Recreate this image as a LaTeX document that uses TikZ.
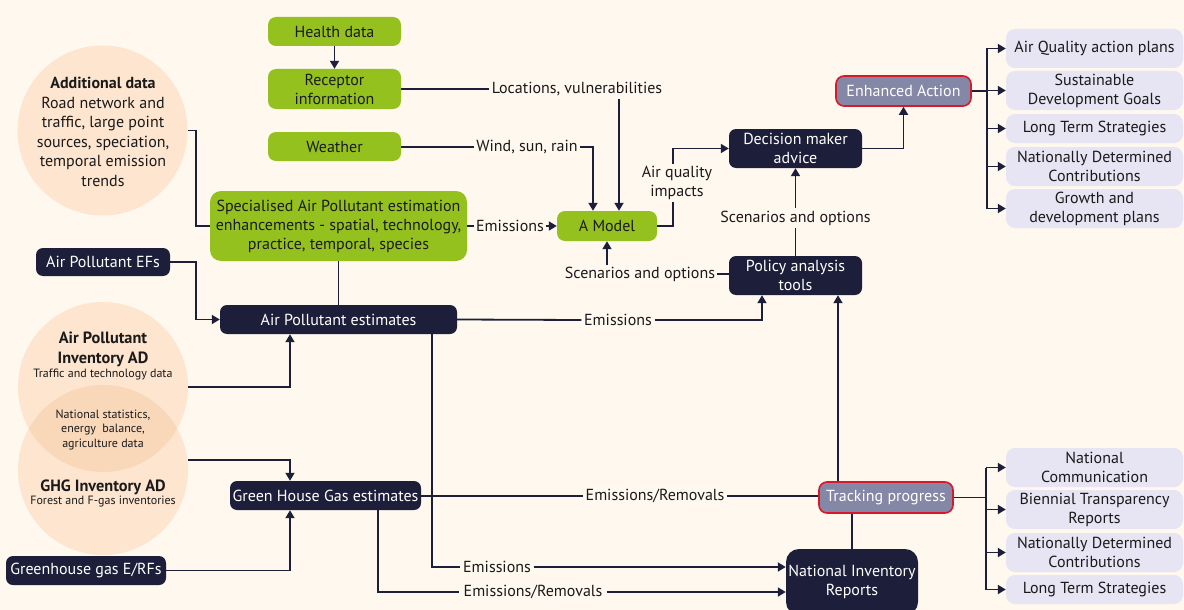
\documentclass[tikz,border=0pt]{standalone}
\usepackage{fontspec}
\setmainfont{PT Sans}
\usetikzlibrary{arrows.meta}
\definecolor{bg}{HTML}{FEF8EF}
\definecolor{peach}{HTML}{FDE5CF}
\definecolor{peachdk}{HTML}{F9D8BA}
\definecolor{lgreen}{HTML}{95C11F}
\definecolor{navy}{HTML}{1D1E3A}
\definecolor{slate}{HTML}{8587A6}
\definecolor{hired}{HTML}{D7192A}
\definecolor{lav}{HTML}{E7E4F3}
\definecolor{ink}{HTML}{1A1A1A}
\tikzset{
  base/.style={align=center, inner sep=0pt, font=\fontsize{16}{19}\selectfont},
  greenbox/.style={base, fill=lgreen, text=ink, rounded corners=8pt},
  darkbox/.style={base, fill=navy, text=white, rounded corners=7pt},
  hlbox/.style={base, fill=slate, draw=hired, line width=1.6pt, text=white, rounded corners=8pt},
  lavbox/.style={base, fill=lav, text=ink, rounded corners=9pt, minimum width=177pt},
  lbl/.style={base, text=ink, inner sep=2.5pt},
  circ/.style={circle, fill=peach, minimum size=170pt, inner sep=0pt},
  ctext/.style={align=center, inner sep=0pt, text=ink},
  ln/.style={draw=navy, line width=1.8pt},
  arr/.style={ln, -{Triangle[length=8pt,width=9pt]}},
  sz/.style n args={2}{minimum width=#1pt, minimum height=#2pt},
}
\begin{document}
\begin{tikzpicture}[x=1pt,y=-1pt]
\useasboundingbox (0,0) rectangle (1184,610);
\fill[bg] (0,0) rectangle (1184,610);

% ---- data circles ----
\node[circ] (add) at (102.5,130.5) {};
\node[circ] (apad) at (103,387) {};
\node[circ] (ghgad) at (103,470) {};
\begin{scope}
  \clip (apad.center) circle (85);
  \fill[peachdk] (ghgad.center) circle (85);
\end{scope}
\node[ctext, font=\fontsize{16}{19.5}\selectfont] at (103,132)
  {\textbf{Additional data}\\Road network and\\traffic, large point\\sources, speciation,\\temporal emission\\trends};
\node[ctext, font=\fontsize{16.3}{20}\selectfont\bfseries] at (103,349) {Air Pollutant\\Inventory AD};
\node[ctext, font=\fontsize{12}{14}\selectfont] at (103,375) {Traffic and technology data};
\node[ctext, font=\fontsize{12}{14.5}\selectfont] at (103,430) {National statistics,\\energy\ \ balance,\\agriculture data};
\node[ctext, font=\fontsize{16.3}{20}\selectfont\bfseries] at (103,487) {GHG Inventory AD};
\node[ctext, font=\fontsize{12}{14}\selectfont] at (103,502) {Forest and F-gas inventories};

% ---- green boxes ----
\node[greenbox, sz={133}{29}] (health) at (334.5,31.5) {Health data};
\node[greenbox, sz={133}{40}] (recep) at (334.5,89) {Receptor\\information};
\node[greenbox, sz={133}{29}] (weather) at (334.5,146.5) {Weather};
\node[greenbox, sz={257}{70}, rounded corners=11pt] (spec) at (338.5,226)
  {Specialised Air Pollutant estimation\\enhancements - spatial, technology,\\practice, temporal, species};
\node[greenbox, sz={100}{30}] (model) at (607,226) {A Model};

% ---- dark boxes ----
\node[darkbox, sz={133}{39}] (dec) at (795.5,148.5) {Decision maker\\advice};
\node[darkbox, sz={133}{39}] (pol) at (795.5,275.5) {Policy analysis\\tools};
\node[darkbox, sz={237}{29}] (ape) at (338.5,319.5) {Air Pollutant estimates};
\node[darkbox, sz={134}{28}] (efs) at (103,262) {Air Pollutant EFs};
\node[darkbox, sz={191}{29}] (ghg) at (325.5,495.5) {Green House Gas estimates};
\node[darkbox, sz={160}{29}] (erf) at (86,570.5) {Greenhouse gas E/RFs};
\node[darkbox, sz={132}{66}, rounded corners=13pt] (nir) at (852,582) {National Inventory\\Reports};

% ---- highlighted boxes ----
\node[hlbox, sz={135}{30}] (enh) at (903.5,91) {Enhanced Action};
\node[hlbox, sz={134}{31}] (track) at (886,497.5) {Tracking progress};

% ---- outcome boxes ----
\node[lavbox, minimum height=39pt] (aq) at (1094.5,48.5) {Air Quality action plans};
\node[lavbox, minimum height=39pt] (sdg) at (1094.5,90.5) {Sustainable\\Development Goals};
\node[lavbox, minimum height=29pt] (lts) at (1094.5,128.5) {Long Term Strategies};
\node[lavbox, minimum height=39pt] (ndc) at (1094.5,166.5) {Nationally Determined\\Contributions};
\node[lavbox, minimum height=39pt] (gro) at (1094.5,208.5) {Growth and\\development plans};
\node[lavbox, minimum height=39pt] (nc) at (1094.5,467.5) {National\\Communication};
\node[lavbox, minimum height=39pt] (btr) at (1094.5,509.5) {Biennial Transparency\\Reports};
\node[lavbox, minimum height=39pt] (ndc2) at (1094.5,552.5) {Nationally Determined\\Contributions};
\node[lavbox, minimum height=29pt] (lts2) at (1094.5,589.5) {Long Term Strategies};

% ---- connector labels ----
\node[lbl] (loc) at (577,89) {Locations, vulnerabilities};
\node[lbl] (wind) at (527,147) {Wind, sun, rain};
\node[lbl, inner sep=1.5pt] (emis1) at (510,226) {Emissions};
\node[lbl] (aqi) at (677,183) {Air quality\\impacts};
\node[lbl, inner sep=1.5pt] (scen1) at (640,274) {Scenarios and options};
\node[lbl] (scen2) at (795.5,218) {Scenarios and options};
\node[lbl] (emis2) at (618,320) {Emissions};
\node[lbl] (er1) at (655,496) {Emissions/Removals};
\node[lbl] (emis3) at (497,567) {Emissions};
\node[lbl, inner sep=4pt] (er2) at (533,592) {Emissions/Removals};

% ---- routing points ----
\coordinate (xloc) at (619,0);
\coordinate (xwind) at (593,0);
\coordinate (xaqi) at (673,0);
\coordinate (x290) at (290,0);
\coordinate (x762) at (762,0);
\coordinate (x838) at (838,0);
\coordinate (x432) at (432,0);
\coordinate (x378) at (378,0);
\coordinate (b1) at (987,91);
\coordinate (b2) at (986,497.5);

% ---- modelling chain ----
\draw[arr] (health) -- (recep);
\draw[ln] (recep.east) -- (loc.west);
\draw[arr] (loc.south -| xloc) -- (model.north -| xloc);
\draw[ln] (weather.east |- wind) -- (wind.west);
\draw[arr] (wind.east) -- (wind.east -| xwind) -- (model.north -| xwind);
\draw[ln] (spec.east) -- (emis1.west);
\draw[arr] (emis1.east) -- (model.west);
\draw[ln] (model.east) -| (xaqi |- aqi.south);
\draw[arr] (xaqi |- aqi.north) |- (dec.west);
\draw[arr] (scen1.north -| model) -- (model.south);
\draw[ln] (scen1.east) -- (scen1.east -| pol.west);
\draw[ln] (pol.north) -- (scen2.south);
\draw[arr] (scen2.north) -- (dec.south);
\draw[arr] (dec.east) -| (enh.south);

% ---- outcomes of enhanced action ----
\draw[ln] (enh.east) -- (b1);
\draw[ln] (b1 |- aq) -- (b1 |- gro);
\foreach \n in {aq,sdg,lts,ndc,gro}{\draw[arr] (b1 |- \n) -- (\n.west);}

% ---- inventory inputs ----
\draw[ln] (add.east) -- ++(8,0) |- (spec.west);
\draw[arr] (efs.east) -- ++(26,0) |- (ape.west);
\draw[ln] (spec.south) -- (ape.north);
\draw[arr] (apad.east) -| (x290 |- ape.south);
\draw[arr] (ghgad.7) -| (x290 |- ghg.north);
\draw[arr] (erf.east) -| (x290 |- ghg.south);

% ---- estimates to reporting ----
\draw[ln] (ape.east) -- (emis2.west);
\draw[arr] (emis2.east) -- (x762 |- emis2) -- (x762 |- pol.south);
\draw[arr] (x838 |- track.north) -- (x838 |- pol.south);
\draw[ln] (track.south -| nir) -- (nir.north);
\draw[ln] (ghg.east |- er1) -- (er1.west);
\draw[ln] (er1.east) -- (track.west |- er1);
\draw[ln] (x432 |- ape.south) |- (emis3.west);
\draw[arr] (emis3.east) -- (emis3.east -| nir.west);
\draw[ln] (x378 |- ghg.south) |- (er2.west);
\draw[arr] (er2.east) -- (er2.east -| nir.west);

% ---- reporting outcomes ----
\draw[ln] (track.east) -- (b2);
\draw[ln] (b2 |- nc) -- (b2 |- lts2);
\foreach \n in {nc,btr,ndc2,lts2}{\draw[arr] (b2 |- \n) -- (\n.west);}
\end{tikzpicture}
\end{document}
